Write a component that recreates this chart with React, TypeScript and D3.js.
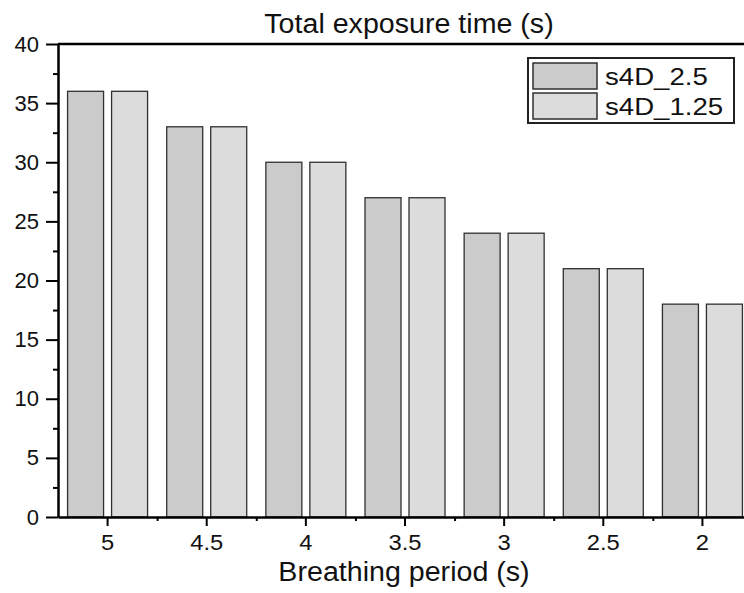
import React, { useEffect, useRef } from "react";
import * as d3 from "d3";

const periods = ["5", "4.5", "4", "3.5", "3", "2.5", "2"];
const seriesNames = ["s4D_2.5", "s4D_1.25"];
const s4D_2_5 = [36, 33, 30, 27, 24, 21, 18];
const s4D_1_25 = [36, 33, 30, 27, 24, 21, 18];
const yTicks = [0, 5, 10, 15, 20, 25, 30, 35, 40];
const chartTitle = "Total exposure time (s)";
const xTitle = "Breathing period (s)";

const WIDTH = 744;
const HEIGHT = 593;
const MARGIN = { LEFT: 58, TOP: 44, BOTTOM: 76 };
const PLOT_RIGHT = 752;
const COLORS = ["#cbcbcb", "#dcdcdc"];
const FONT = "'Liberation Sans', Arial, sans-serif";

const App = () => {
  const svgRef = useRef(null);

  useEffect(() => {
    const svg = d3.select(svgRef.current);
    svg.selectAll("*").remove();

    const rows = periods.map((p, i) => ({
      period: p,
      values: [s4D_2_5[i], s4D_1_25[i]],
    }));

    const yBottom = HEIGHT - MARGIN.BOTTOM;
    const xScale = d3
      .scaleBand()
      .domain(periods)
      .range([MARGIN.LEFT, PLOT_RIGHT])
      .padding(0);
    const inner = d3
      .scaleBand()
      .domain(seriesNames)
      .range([-40, 40])
      .paddingInner(8 / 44)
      .paddingOuter(0);
    const yScale = d3.scaleLinear().domain([0, 40]).range([yBottom, MARGIN.TOP]);

    // bars
    const groups = svg
      .selectAll(".grp")
      .data(rows)
      .join("g")
      .attr("class", "grp")
      .attr(
        "transform",
        (d) => `translate(${xScale(d.period) + xScale.bandwidth() / 2},0)`
      );
    groups
      .selectAll("rect")
      .data((d) => d.values.map((v, j) => ({ v, name: seriesNames[j], j })))
      .join("rect")
      .attr("x", (d) => inner(d.name))
      .attr("width", inner.bandwidth())
      .attr("y", (d) => yScale(d.v))
      .attr("height", (d) => yBottom - yScale(d.v))
      .attr("fill", (d) => COLORS[d.j])
      .attr("stroke", "#303030")
      .attr("stroke-width", 1.3);

    // top frame line
    svg
      .append("line")
      .attr("x1", MARGIN.LEFT)
      .attr("x2", PLOT_RIGHT)
      .attr("y1", MARGIN.TOP)
      .attr("y2", MARGIN.TOP)
      .attr("stroke", "#000")
      .attr("stroke-width", 2.5);

    // y axis
    const yAxis = d3
      .axisLeft(yScale)
      .tickValues(yTicks)
      .tickSize(12)
      .tickPadding(7)
      .tickSizeOuter(0);
    const yg = svg
      .append("g")
      .attr("transform", `translate(${MARGIN.LEFT},0)`)
      .call(yAxis);
    const yMinor = d3
      .axisLeft(yScale)
      .tickValues(yTicks.slice(0, -1).map((t) => t + 2.5))
      .tickSize(5)
      .tickFormat(() => "")
      .tickSizeOuter(0);
    svg
      .append("g")
      .attr("transform", `translate(${MARGIN.LEFT},0)`)
      .call(yMinor)
      .select(".domain")
      .remove();

    // x axis
    const xAxis = d3.axisBottom(xScale).tickSize(9).tickPadding(8).tickSizeOuter(0);
    const xg = svg
      .append("g")
      .attr("transform", `translate(0,${yBottom})`)
      .call(xAxis);
    const xMinor = d3
      .axisBottom(d3.scaleLinear().domain([0, periods.length]).range([MARGIN.LEFT, PLOT_RIGHT]))
      .tickValues(d3.range(1, periods.length))
      .tickSize(4)
      .tickFormat(() => "")
      .tickSizeOuter(0);
    svg
      .append("g")
      .attr("transform", `translate(0,${yBottom})`)
      .call(xMinor)
      .select(".domain")
      .remove();

    svg.selectAll(".domain").attr("stroke-width", 2.5).attr("stroke", "#000");
    svg.selectAll(".tick line").attr("stroke-width", 2).attr("stroke", "#000");

    yg.attr("font-size", null).attr("font-family", null);
    xg.attr("font-size", null).attr("font-family", null);
    yg.selectAll(".tick text")
      .style("font-family", FONT)
      .style("font-size", "22px")
      .attr("fill", "#111");
    xg.selectAll(".tick text")
      .style("font-family", FONT)
      .style("font-size", "22px")
      .attr("fill", "#111")
      .attr("dy", "0.71em")
      .attr("transform", "scale(1.08,1)");

    // titles
    svg
      .append("text")
      .attr("transform", `translate(409,33) scale(1.06,1)`)
      .attr("text-anchor", "middle")
      .attr("font-family", FONT)
      .attr("font-size", 27)
      .attr("fill", "#111")
      .text(chartTitle);
    svg
      .append("text")
      .attr("transform", `translate(404,581) scale(1.06,1)`)
      .attr("text-anchor", "middle")
      .attr("font-family", FONT)
      .attr("font-size", 27)
      .attr("fill", "#111")
      .text(xTitle);

    // legend
    const lg = svg.append("g");
    lg.append("rect")
      .attr("x", 528)
      .attr("y", 58)
      .attr("width", 206)
      .attr("height", 65)
      .attr("fill", "#fff")
      .attr("stroke", "#222")
      .attr("stroke-width", 2);
    seriesNames.forEach((name, i) => {
      lg.append("rect")
        .attr("x", 533)
        .attr("y", 63 + i * 30)
        .attr("width", 64)
        .attr("height", 26)
        .attr("fill", COLORS[i])
        .attr("stroke", "#303030")
        .attr("stroke-width", 1.5);
      lg.append("text")
        .attr("transform", `translate(605,${85 + i * 30}) scale(1.15,1)`)
        .attr("font-family", FONT)
        .attr("font-size", 24)
        .attr("fill", "#111")
        .text(name);
    });
  }, []);

  return (
    <svg
      ref={svgRef}
      width={WIDTH}
      height={HEIGHT}
      style={{ position: "absolute", left: 0, top: 0, background: "#fff" }}
    ></svg>
  );
};

export default App;
